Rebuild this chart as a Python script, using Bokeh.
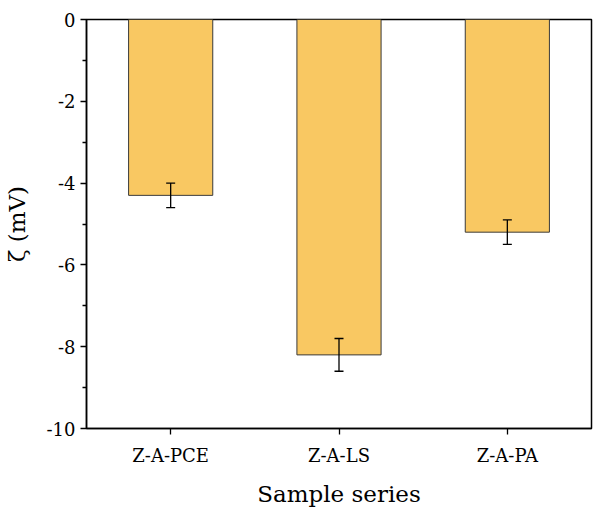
from bokeh.plotting import figure
from bokeh.models import FactorRange, Range1d, Whisker, ColumnDataSource, FixedTicker, TeeHead
from bokeh.embed import file_html
from bokeh.resources import INLINE

categories = ["Z-A-PCE", "Z-A-LS", "Z-A-PA"]
zeta = [-4.3, -8.2, -5.2]
err = [0.3, 0.4, 0.3]
y_ticks = [0, -2, -4, -6, -8, -10]
y_minor = [-1, -3, -5, -7, -9]

src = ColumnDataSource(dict(
    x=categories, top=zeta,
    upper=[v + e for v, e in zip(zeta, err)],
    lower=[v - e for v, e in zip(zeta, err)],
))

FONT = "DejaVu Serif"

p = figure(x_range=FactorRange(*categories, range_padding=0), y_range=Range1d(-10, 0),
           frame_width=505, frame_height=409, output_backend="svg", toolbar_location=None,
           min_border_left=78, min_border_right=3, min_border_top=19, min_border_bottom=84)
p.vbar(x="x", top="top", bottom=0, width=0.5, source=src,
       fill_color="#F9C862", line_color="#3a3a3a", line_width=1)
w = Whisker(base="x", upper="upper", lower="lower", source=src, line_color="black", line_width=1.3,
            level="overlay",
            upper_head=TeeHead(size=9, line_color="black", line_width=1.3),
            lower_head=TeeHead(size=9, line_color="black", line_width=1.3))
p.add_layout(w)

p.grid.visible = False
p.outline_line_color = "black"
p.outline_line_width = 1.5
p.outline_line_alpha = 1

p.yaxis.ticker = FixedTicker(ticks=y_ticks, minor_ticks=y_minor)
p.yaxis.major_label_overrides = {t: str(t) for t in y_ticks}
p.yaxis.axis_label = "ζ (mV)"
p.xaxis.axis_label = "Sample series"
for ax in (p.xaxis[0], p.yaxis[0]):
    ax.axis_line_color = "black"
    ax.axis_line_width = 1.5
    ax.major_tick_line_color = "black"
    ax.major_tick_line_width = 1.3
    ax.major_tick_out = 6
    ax.major_tick_in = 0
    ax.minor_tick_line_color = "black"
    ax.minor_tick_line_width = 1.3
    ax.minor_tick_out = 4
    ax.minor_tick_in = 0
    ax.major_label_text_font = FONT
    ax.major_label_text_font_size = "18px"
    ax.major_label_text_color = "black"
    ax.axis_label_text_font = FONT
    ax.axis_label_text_font_size = "23px"
    ax.axis_label_text_font_style = "normal"
    ax.axis_label_text_color = "black"
p.xaxis.major_label_standoff = 10
p.xaxis.axis_label_standoff = 12
p.yaxis.major_label_standoff = 5
p.yaxis.axis_label_standoff = 14

open("out.html", "w").write(file_html(p, INLINE))
